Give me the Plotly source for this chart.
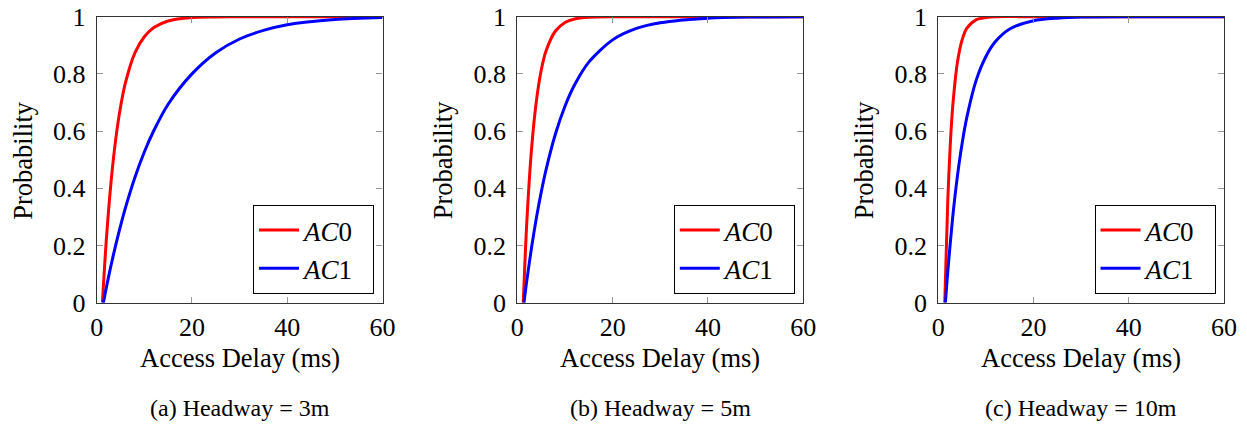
import plotly.graph_objects as go

# Access delay (ms) sample points
x_a_ac0 = [1.2, 2, 3, 4, 5, 6, 8, 10, 12, 15, 20, 25, 30, 40, 50, 60]
y_a_ac0 = [0.0, 0.215, 0.42, 0.572, 0.684, 0.767, 0.873, 0.93, 0.962, 0.985, 0.997, 0.999, 1.0, 1.0, 1.0, 1.0]
x_a_ac1 = [1.4, 2, 3, 4, 5, 6, 8, 10, 12, 15, 20, 25, 30, 35, 40, 50, 60]
y_a_ac1 = [0.0, 0.051, 0.13, 0.202, 0.269, 0.33, 0.437, 0.527, 0.602, 0.694, 0.80, 0.874, 0.922, 0.952, 0.972, 0.99, 0.997]

x_b_ac0 = [1.25, 2, 3, 4, 5, 6, 8, 10, 12, 15, 20, 30, 40, 50, 60]
y_b_ac0 = [0.0, 0.283, 0.54, 0.705, 0.811, 0.879, 0.95, 0.98, 0.992, 0.998, 1.0, 1.0, 1.0, 1.0, 1.0]
x_b_ac1 = [1.4, 2, 3, 4, 5, 6, 8, 10, 12, 15, 20, 25, 30, 40, 50, 60]
y_b_ac1 = [0.0, 0.078, 0.194, 0.296, 0.385, 0.463, 0.59, 0.687, 0.761, 0.841, 0.919, 0.959, 0.979, 0.995, 0.999, 1.0]

x_c_ac0 = [1.35, 2, 2.5, 3, 4, 5, 6, 8, 10, 12, 20, 30, 40, 50, 60]
y_c_ac0 = [0.0, 0.361, 0.548, 0.68, 0.839, 0.919, 0.96, 0.99, 0.997, 1.0, 1.0, 1.0, 1.0, 1.0, 1.0]
x_c_ac1 = [1.5, 2, 3, 4, 5, 6, 8, 10, 12, 15, 20, 25, 30, 40, 50, 60]
y_c_ac1 = [0.0, 0.11, 0.295, 0.441, 0.557, 0.649, 0.78, 0.861, 0.913, 0.957, 0.986, 0.995, 0.999, 1.0, 1.0, 1.0]

series_names = ["<i>AC</i>0", "<i>AC</i>1"]
colors = ["#ff0000", "#0000ff"]
captions = ["(a) Headway = 3m", "(b) Headway = 5m", "(c) Headway = 10m"]
x_title = "Access Delay (ms)"
y_title = "Probability"
x_ticks = [0, 20, 40, 60]
y_ticks = [0, 0.2, 0.4, 0.6, 0.8, 1]
y_ticktext = ["0", "0.2", "0.4", "0.6", "0.8", "1"]

panels = [
    [(x_a_ac0, y_a_ac0), (x_a_ac1, y_a_ac1)],
    [(x_b_ac0, y_b_ac0), (x_b_ac1, y_b_ac1)],
    [(x_c_ac0, y_c_ac0), (x_c_ac1, y_c_ac1)],
]

W, H = 1247, 425
x_domains_px = [(96.7, 382.5), (517.3, 803.3), (938.3, 1224.0)]
y_dom = [(H - 302.7) / H, (H - 16.7) / H]

FONT = "Liberation Serif"
fig = go.Figure()
layout = dict(
    width=W, height=H,
    margin=dict(l=0, r=0, t=0, b=0, autoexpand=False),
    paper_bgcolor="white", plot_bgcolor="white",
    font=dict(family=FONT, size=26, color="black"),
    annotations=[],
)

for i, panel in enumerate(panels):
    n = i + 1
    xa = "x" if n == 1 else f"x{n}"
    ya = "y" if n == 1 else f"y{n}"
    lg = "legend" if n == 1 else f"legend{n}"
    for (xs, ys), name, col in zip(panel, series_names, colors):
        fig.add_trace(go.Scatter(
            x=xs, y=ys, mode="lines", name=name + "\u00a0\u00a0",
            line=dict(color=col, width=3, shape="spline", smoothing=0.8),
            xaxis=xa, yaxis=ya, legend=lg, showlegend=True,
        ))
    x0, x1 = x_domains_px[i]
    axis_common = dict(
        showline=True, linecolor="#333333", linewidth=1.2, mirror="ticks",
        ticks="inside", ticklen=6, tickcolor="#999999", tickwidth=1,
        showgrid=False, zeroline=False, automargin=False,
        tickfont=dict(family=FONT, size=26, color="black"),
    )
    layout["xaxis" if n == 1 else f"xaxis{n}"] = dict(
        domain=[x0 / W, x1 / W], range=[0, 60], anchor=ya,
        tickvals=x_ticks, ticktext=[str(v) for v in x_ticks],
        ticklabelstandoff=1,
        **axis_common,
    )
    layout["yaxis" if n == 1 else f"yaxis{n}"] = dict(
        domain=y_dom, range=[0, 1], anchor=xa,
        tickvals=y_ticks, ticktext=y_ticktext,
        ticklabelstandoff=5,
        **axis_common,
    )
    layout[lg] = dict(
        x=(x1 - 8.5) / W, y=(H - 294) / H, xanchor="right", yanchor="bottom",
        bgcolor="white", bordercolor="black", borderwidth=1,
        font=dict(family=FONT, size=27, color="black"),
        tracegroupgap=0, itemwidth=40,
    )
    layout["annotations"].append(dict(
        text=x_title, xref="paper", yref="paper",
        x=(x0 + x1) / 2 / W, y=(H - 358) / H, xanchor="center", yanchor="middle",
        showarrow=False, font=dict(family=FONT, size=26.5, color="black"),
    ))
    layout["annotations"].append(dict(
        text=y_title, xref="paper", yref="paper", textangle=-90,
        x=(x0 - 74) / W, y=(H - 160) / H, xanchor="center", yanchor="middle",
        showarrow=False, font=dict(family=FONT, size=26.5, color="black"),
    ))
    layout["annotations"].append(dict(
        text=captions[i], xref="paper", yref="paper",
        x=(x0 + x1) / 2 / W, y=(H - 408) / H, xanchor="center", yanchor="middle",
        showarrow=False, font=dict(family=FONT, size=24, color="black"),
    ))

fig.update_layout(**layout)
fig.write_html("out.html")
